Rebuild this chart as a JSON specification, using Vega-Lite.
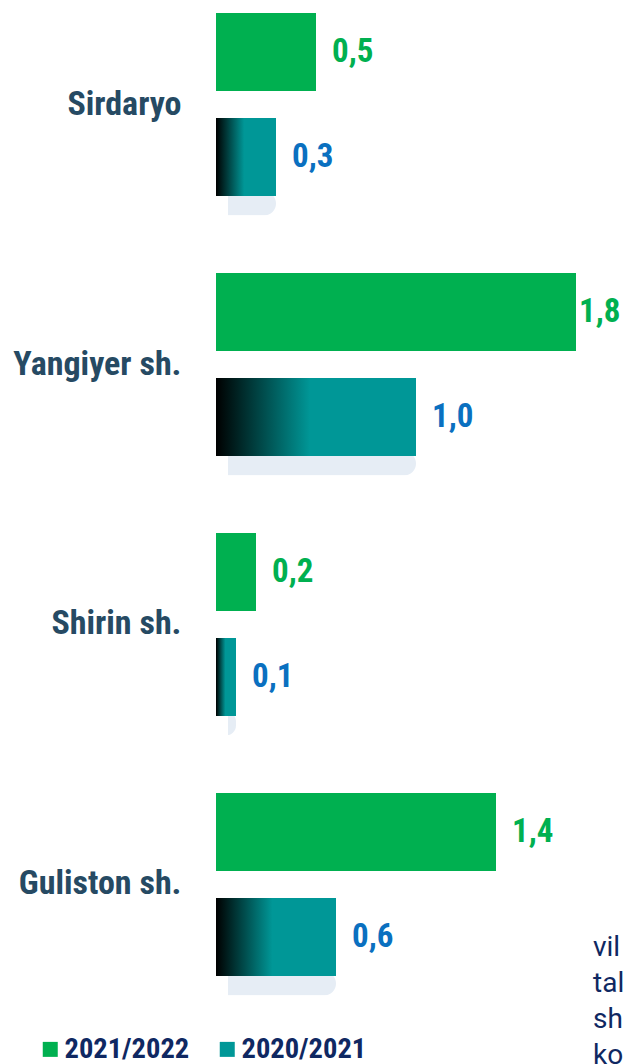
{
  "$schema": "https://vega.github.io/schema/vega-lite/v6.json",
  "width": 411,
  "height": 963,
  "autosize": "none",
  "padding": {"left": 216, "top": 13, "right": 0, "bottom": 88},
  "background": "white",
  "config": {
    "view": {"stroke": null},
    "locale": {"number": {"decimal": ",", "thousands": " ", "grouping": [3], "currency": ["", ""]}}
  },
  "data": {
    "values": [
      {"region": "Sirdaryo", "season": "2021/2022", "value": 0.5},
      {"region": "Sirdaryo", "season": "2020/2021", "value": 0.3},
      {"region": "Yangiyer sh.", "season": "2021/2022", "value": 1.8},
      {"region": "Yangiyer sh.", "season": "2020/2021", "value": 1.0},
      {"region": "Shirin sh.", "season": "2021/2022", "value": 0.2},
      {"region": "Shirin sh.", "season": "2020/2021", "value": 0.1},
      {"region": "Guliston sh.", "season": "2021/2022", "value": 1.4},
      {"region": "Guliston sh.", "season": "2020/2021", "value": 0.6}
    ]
  },
  "encoding": {
    "y": {
      "field": "region",
      "type": "nominal",
      "sort": ["Sirdaryo", "Yangiyer sh.", "Shirin sh.", "Guliston sh."],
      "scale": {"paddingInner": 0.296, "paddingOuter": 0},
      "axis": {
        "title": null,
        "domain": false,
        "ticks": false,
        "labelPadding": 35,
        "labelFont": "Roboto Condensed, Liberation Sans Narrow, Roboto",
        "labelFontWeight": "bold",
        "labelFontSize": 34,
        "labelColor": "#264A63"
      }
    },
    "x": {
      "field": "value",
      "type": "quantitative",
      "scale": {"domain": [0, 2.055], "nice": false},
      "axis": null
    }
  },
  "layer": [
    {
      "transform": [{"filter": "datum.season === '2020/2021'"}],
      "mark": {"type": "bar", "color": "#E6EDF5", "height": 24, "yOffset": 99, "xOffset": 12, "cornerRadius": 12}
    },
    {
      "encoding": {
        "yOffset": {
          "field": "season",
          "type": "nominal",
          "sort": ["2021/2022", "2020/2021"],
          "scale": {"paddingInner": 0.257, "paddingOuter": 0}
        }
      },
      "layer": [
        {
          "mark": {"type": "bar"},
          "encoding": {
            "color": {
              "field": "season",
              "type": "nominal",
              "scale": {
                "domain": ["2021/2022", "2020/2021"],
                "range": ["#00B050", "#009797"]
              },
              "legend": {
                "title": null,
                "orient": "none",
                "legendX": -180,
                "legendY": 1022,
                "direction": "horizontal",
                "symbolType": "square",
                "symbolSize": 225,
                "symbolStrokeWidth": 0,
                "labelFont": "Roboto Condensed, Liberation Sans Narrow, Roboto",
                "labelFontWeight": "bold",
                "labelFontSize": 28.5,
                "labelColor": "#0F2862",
                "labelOffset": 0,
                "columnPadding": 23,
                "encode": {
                  "symbols": {
                    "update": {
                      "fill": {"signal": "datum.label === '2020/2021' ? {gradient: 'linear', x1: 0, y1: 0, x2: 1, y2: 0, stops: [{offset: 0, color: '#000000'}, {offset: 0.47, color: '#009797'}, {offset: 1, color: '#009797'}]} : '#00B050'"}
                    }
                  }
                }
              }
            }
          }
        },
        {
          "transform": [{"filter": "datum.season === '2020/2021'"}],
          "mark": {
            "type": "bar",
            "color": {"gradient": "linear", "x1": 0, "y1": 0, "x2": 1, "y2": 0,
              "stops": [{"offset": 0, "color": "#000000"}, {"offset": 0.47, "color": "#009797"}, {"offset": 1, "color": "#009797"}]}
          }
        },
        {
          "transform": [{"filter": "datum.value < 1.7"}],
          "mark": {"type": "text", "align": "left", "baseline": "middle", "dx": 16, "font": "Roboto Condensed, Liberation Sans Narrow, Roboto", "fontWeight": "bold", "fontSize": 33},
          "encoding": {
            "text": {"field": "value", "type": "quantitative", "format": ".1f"},
            "color": {
              "condition": {"test": "datum.season === '2021/2022'", "value": "#00B050"},
              "value": "#0A70C0"
            }
          }
        },
        {
          "transform": [{"filter": "datum.value >= 1.7"}],
          "mark": {"type": "text", "align": "left", "baseline": "middle", "dx": 3, "font": "Roboto Condensed, Liberation Sans Narrow, Roboto", "fontWeight": "bold", "fontSize": 33},
          "encoding": {
            "text": {"field": "value", "type": "quantitative", "format": ".1f"},
            "color": {
              "condition": {"test": "datum.season === '2021/2022'", "value": "#00B050"},
              "value": "#0A70C0"
            }
          }
        }
      ]
    },
    {
      "data": {"values": [{"note": ["vil", "tal", "sh", "ko"], "region": "Guliston sh.", "pos": 1.885}]},
      "mark": {"type": "text", "align": "left", "baseline": "alphabetic", "dy": 72, "lineHeight": 36, "font": "Roboto", "fontSize": 28, "color": "#0F2862"},
      "encoding": {
        "text": {"field": "note"},
        "x": {"field": "pos", "type": "quantitative"},
        "y": {"field": "region", "type": "nominal"}
      }
    }
  ]
}
